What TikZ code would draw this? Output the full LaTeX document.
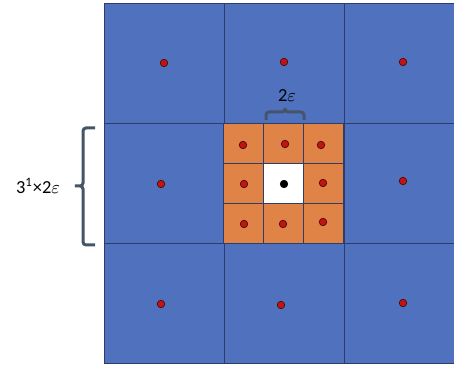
\documentclass[tikz,border=0pt]{standalone}
\usepackage{fontspec}
\setmainfont{Carlito}
\usepackage{tikz}
\usetikzlibrary{positioning}
\definecolor{cellblue}{RGB}{80,114,190}
\definecolor{cellorange}{RGB}{224,131,70}
\definecolor{gridline}{RGB}{45,60,105}
\definecolor{dotred}{RGB}{192,20,20}
\definecolor{bracegray}{RGB}{68,84,106}
\tikzset{
  bigcell/.style={draw=gridline, line width=0.5pt, fill=cellblue, minimum size=60pt, inner sep=0pt},
  smallcell/.style={draw=gridline, line width=0.5pt, fill=cellorange, minimum size=20pt, inner sep=0pt},
  centercell/.style={smallcell, fill=white},
  pt/.style={draw=black!70!dotred, line width=0.3pt, circle, fill=dotred, minimum size=3.8pt, inner sep=0pt},
  centerpt/.style={pt, fill=black, draw=black},
  brace/.style={draw=bracegray, line width=1.5pt, rounded corners=1.5pt},
  lbl/.style={font=\fontsize{9.2}{11}\selectfont, inner sep=0pt}
}
\begin{document}
\begin{tikzpicture}[x=0.5pt, y=-0.5pt]
    \useasboundingbox (0,0) rectangle (454,367);
    \clip (0,0) rectangle (454,367);
    % outer grid
    \foreach \i/\x in {1/164,2/284,3/404} {
      \foreach \j/\y in {1/64,2/184,3/304} {
        \node[bigcell] (b\i\j) at (\x,\y) {};
      }
    }
    % inner grid
    \foreach \i/\x in {1/243,2/283,3/323} {
      \foreach \j/\y in {1/144,2/184,3/224} {
        \node[smallcell] (s\i\j) at (\x,\y) {};
      }
    }
    \node[centercell] (s22) at (283,184) {};

    % samples in the outer cells
    \node[pt] (p11) at (164,63) {};
    \node[pt] (p21) at (284,62) {};
    \node[pt] (p31) at (403,62) {};
    \node[pt] (p12) at (161,184) {};
    \node[pt] (p32) at (403,181) {};
    \node[pt] (p13) at (161,304) {};
    \node[pt] (p23) at (281,305) {};
    \node[pt] (p33) at (403,303) {};
    % samples in the inner cells
    \node[pt] (q11) at (243,145) {};
    \node[pt] (q21) at (285,144) {};
    \node[pt] (q31) at (321,145) {};
    \node[pt] (q12) at (244,184) {};
    \node[centerpt] (q22) at (284,184) {};
    \node[pt] (q32) at (323,183) {};
    \node[pt] (q13) at (244,224) {};
    \node[pt] (q23) at (283,224) {};
    \node[pt] (q33) at (323,222) {};

    % braces
    \draw[brace] (95,128) -- (83,128) -- (83,186) -- (73,186) -- (83,186) -- (83,245) -- (95,245);
    \draw[brace] (266,120) -- (266,112) -- (285,112) -- (285,106) -- (285,112) -- (304,112) -- (304,120);
    \node[lbl] (side) at (38,186) {3\textsuperscript{1}×2$\varepsilon$};
    \node[lbl] (top) at (287,96) {2$\varepsilon$};
\end{tikzpicture}
\end{document}
